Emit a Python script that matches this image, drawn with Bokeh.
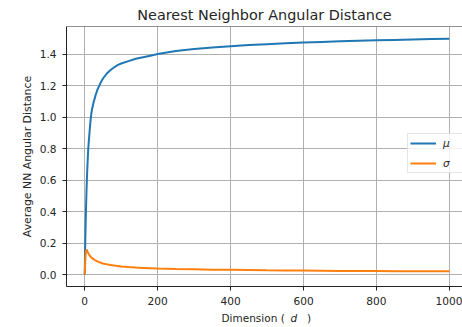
from bokeh.plotting import figure
from bokeh.models import FixedTicker, Legend, LegendItem, Span, Range1d, NumeralTickFormatter, Label
from bokeh.embed import file_html
from bokeh.resources import INLINE

dims = [0, 1, 2, 3, 4, 5, 6, 7, 8, 9, 10, 12, 14, 16, 18, 20, 25, 30, 35, 40, 45, 50,
        60, 70, 80, 90, 100, 120, 140, 160, 180, 200, 250, 300, 350, 400, 450, 500,
        550, 600, 650, 700, 750, 800, 850, 900, 950, 1000]
mu = [0.0, 0.15, 0.27, 0.37, 0.46, 0.54, 0.61, 0.67, 0.72, 0.77, 0.81, 0.87, 0.93, 0.98,
      1.02, 1.05, 1.10, 1.14, 1.175, 1.20, 1.225, 1.245, 1.275, 1.297, 1.315, 1.33, 1.34,
      1.355, 1.37, 1.38, 1.39, 1.40, 1.42, 1.432, 1.442, 1.45, 1.457, 1.463, 1.468, 1.473,
      1.477, 1.481, 1.484, 1.487, 1.49, 1.493, 1.495, 1.497]
sigma = [0.0, 0.06, 0.11, 0.14, 0.155, 0.16, 0.155, 0.15, 0.145, 0.14, 0.135, 0.127, 0.12,
         0.115, 0.11, 0.105, 0.097, 0.09, 0.084, 0.079, 0.075, 0.071, 0.066, 0.062, 0.058,
         0.055, 0.052, 0.048, 0.045, 0.043, 0.041, 0.039, 0.036, 0.034, 0.032, 0.031, 0.03,
         0.028, 0.027, 0.026, 0.025, 0.024, 0.024, 0.023, 0.022, 0.022, 0.021, 0.021]
x_ticks = [0, 200, 400, 600, 800, 1000]
y_ticks = [0.0, 0.2, 0.4, 0.6, 0.8, 1.0, 1.2, 1.4]
series_names = ["\u03bc", "\u03c3"]
series_colors = ["#1f77b4", "#ff7f0e"]
x_label_parts = ["Dimension (", "d", ")"]

FONT = "DejaVu Sans"
TEXT = "#262626"

W, H = 462, 327
B_LEFT, B_RIGHT, B_TOP, B_BOTTOM = 66, 0, 25, 41
X0, X1 = -50, 1036
Y0, Y1 = -0.075, 1.575


def px_to_x(px):
    return X0 + (px - B_LEFT) / (W - B_LEFT - B_RIGHT) * (X1 - X0)


def py_to_y(py):
    return Y0 + (H - B_BOTTOM - py) / (H - B_TOP - B_BOTTOM) * (Y1 - Y0)


p = figure(width=W, height=H, output_backend="svg", toolbar_location=None,
           x_range=Range1d(X0, X1), y_range=Range1d(Y0, Y1),
           min_border_left=B_LEFT, min_border_right=B_RIGHT, min_border_top=B_TOP,
           min_border_bottom=B_BOTTOM,
           title="Nearest Neighbor Angular Distance")
p.title.align = "center"
p.title.text_font = FONT
p.title.text_font_size = "14.4px"
p.title.text_font_style = "normal"
p.title.text_color = TEXT
p.title.standoff = 8
p.outline_line_color = None
p.background_fill_color = "white"
p.border_fill_color = "white"

r1 = p.line(dims, mu, line_color=series_colors[0], line_width=2)
r2 = p.line(dims, sigma, line_color=series_colors[1], line_width=2)

for ax in (p.xaxis[0], p.yaxis[0]):
    ax.axis_line_color = "#222222"
    ax.axis_line_width = 1
    ax.major_tick_line_color = "#222222"
    ax.major_tick_out = 4
    ax.major_tick_in = 0
    ax.minor_tick_line_color = None
    ax.major_label_text_font = FONT
    ax.major_label_text_font_size = "10.6px"
    ax.major_label_text_color = TEXT
    ax.axis_label_text_font = FONT
    ax.axis_label_text_font_size = "10.9px"
    ax.axis_label_text_font_style = "normal"
    ax.axis_label_text_color = TEXT
    ax.major_label_standoff = 6
    ax.axis_label_standoff = 3

p.xaxis[0].ticker = FixedTicker(ticks=x_ticks)
p.yaxis[0].ticker = FixedTicker(ticks=y_ticks)
p.yaxis[0].formatter = NumeralTickFormatter(format="0.0")
p.yaxis[0].axis_label = "Average NN Angular Distance"

# x-axis label "Dimension ( d )" with an italic d, as text pieces placed in side
# panels (so they are not clipped by the frame) at fixed page positions
part_px = [221, 290, 306.5]
part_style = ["normal", "italic", "normal"]
part_panel = ["below", "left", "left"]
baseline_y = py_to_y(318)
for txt, xx, st, panel in zip(x_label_parts, part_px, part_style, part_panel):
    p.add_layout(Label(x=px_to_x(xx), y=baseline_y, x_units="data", y_units="data",
                       text=txt, text_font=FONT, text_font_size="10.5px",
                       text_font_style=st, text_color=TEXT,
                       text_baseline="alphabetic", text_align="left"), panel)

p.xgrid.ticker = FixedTicker(ticks=x_ticks)
p.ygrid.ticker = FixedTicker(ticks=y_ticks)
p.grid.grid_line_color = "#b0b0b0"
p.grid.grid_line_width = 1

top = Span(location=Y1, dimension="width", line_color="#222222", line_width=1)
p.add_layout(top)

legend = Legend(items=[LegendItem(label=series_names[0], renderers=[r1]),
                       LegendItem(label=series_names[1], renderers=[r2])],
                location=(341, 113))
legend.label_text_font = FONT
legend.label_text_font_style = "italic"
legend.label_text_font_size = "10.5px"
legend.label_text_color = TEXT
legend.glyph_width = 26
legend.glyph_height = 14
legend.label_height = 14
legend.label_width = 18
legend.spacing = 6
legend.padding = 2
legend.margin = 0
legend.label_standoff = 7
legend.border_line_color = "#cccccc"
legend.background_fill_alpha = 0.8
p.add_layout(legend)

open("out.html", "w").write(file_html(p, INLINE))
